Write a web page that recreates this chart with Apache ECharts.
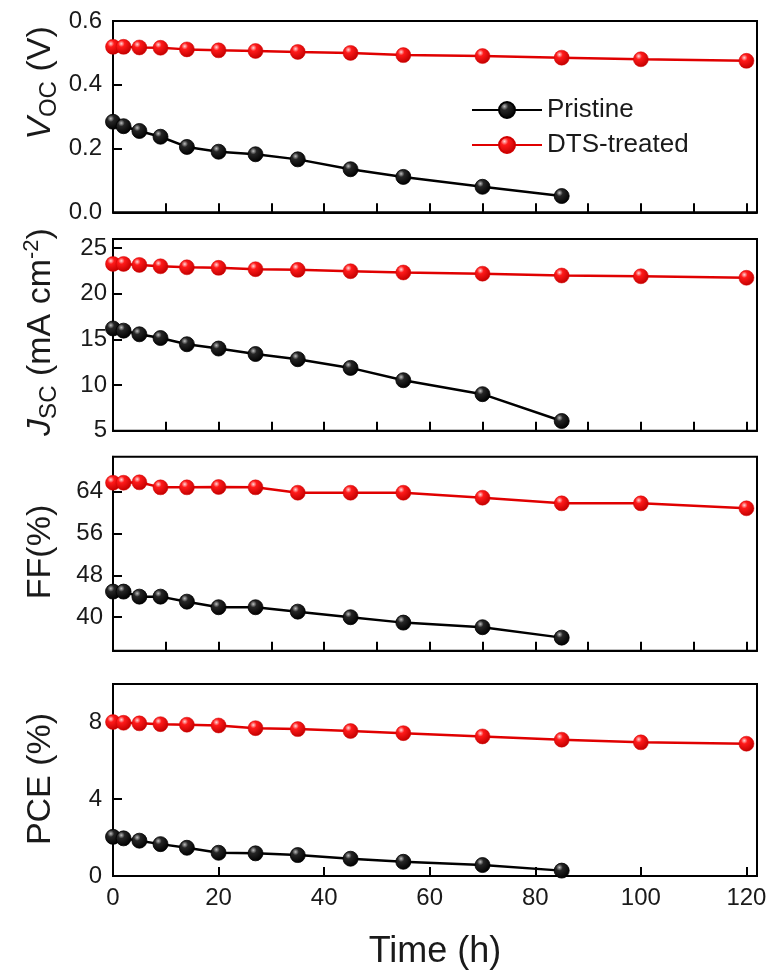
<!DOCTYPE html>
<html>
<head>
<meta charset="utf-8">
<script src="https://cdn.jsdelivr.net/npm/echarts@6/dist/echarts.min.js"></script>
<style>
html,body{margin:0;padding:0;background:#fff}
#chart{width:771px;height:976px}
</style>
</head>
<body>
<div id="chart"></div>
<script>
// Ageing time (h)
const timePristine = [0, 2, 5, 9, 14, 20, 27, 35, 45, 55, 70, 85];
const timeTreated  = [0, 2, 5, 9, 14, 20, 27, 35, 45, 55, 70, 85, 100, 120];

// Open-circuit voltage (V)
const vocPristine = [0.284, 0.270, 0.255, 0.237, 0.205, 0.190, 0.182, 0.166, 0.135, 0.111, 0.080, 0.051];
const vocTreated  = [0.519, 0.519, 0.517, 0.516, 0.511, 0.508, 0.506, 0.503, 0.500, 0.493, 0.490, 0.485, 0.480, 0.475];

// Short-circuit current density (mA cm^-2)
const jscPristine = [16.2, 15.96, 15.56, 15.15, 14.47, 14.0, 13.4, 12.83, 11.88, 10.53, 9.0, 6.06];
const jscTreated  = [23.27, 23.27, 23.16, 23.01, 22.9, 22.84, 22.69, 22.62, 22.47, 22.33, 22.2, 22.0, 21.92, 21.75];

// Fill factor (%)
const ffPristine = [44.9, 44.9, 43.94, 43.94, 42.98, 41.91, 41.91, 41.07, 40.0, 38.97, 38.09, 36.1];
const ffTreated  = [65.72, 65.72, 65.8, 64.84, 64.84, 64.9, 64.84, 63.81, 63.81, 63.81, 62.86, 61.78, 61.78, 60.83];

// Power conversion efficiency (%)
const pcePristine = [2.04, 1.96, 1.84, 1.66, 1.47, 1.21, 1.18, 1.09, 0.90, 0.74, 0.57, 0.28];
const pceTreated  = [8.02, 7.98, 7.95, 7.91, 7.88, 7.84, 7.70, 7.65, 7.55, 7.44, 7.27, 7.10, 6.96, 6.89];

// Axis tick labels
const xTickLabels = [0, 20, 40, 60, 80, 100, 120];
const vocTicks = [0, 0.2, 0.4, 0.6];
const jscTicks = [5, 10, 15, 20, 25];
const ffTicks = [40, 48, 56, 64];
const pceTicks = [0, 4, 8];

const seriesNames = ['Pristine', 'DTS-treated'];

const FONT = '"Liberation Sans", Arial, Helvetica, sans-serif';
const TXT = '#1a1a1a';

const chart = echarts.init(document.getElementById('chart'), null, {renderer: 'canvas'});

function ball(light, mid, dark) {
  return new echarts.graphic.RadialGradient(0.36, 0.3, 0.7, [
    {offset: 0, color: light},
    {offset: 0.3, color: mid},
    {offset: 1, color: dark}
  ]);
}
const redBall = ball('#ffd6d6', '#ff1a1a', '#c40000');
const blackBall = ball('#bdbdbd', '#262626', '#000000');

const gridLeft = 113, gridWidth = 644;
const panels = [
  {top: 21, height: 191.3, min: 0, max: 0.6, ticks: vocTicks, p: vocPristine, t: vocTreated, fmt: v => v.toFixed(1), lblMargin: 11},
  {top: 239, height: 191.7, min: 5, max: 26, ticks: jscTicks, p: jscPristine, t: jscTreated, fmt: v => String(v), lblMargin: 6},
  {top: 456.7, height: 194, min: 33.6, max: 70.7, ticks: ffTicks, p: ffPristine, t: ffTreated, fmt: v => String(v), lblMargin: 10},
  {top: 684, height: 192, min: 0, max: 10, ticks: pceTicks, p: pcePristine, t: pceTreated, fmt: v => String(v), lblMargin: 11}
];

const grids = [], xAxes = [], yAxes = [], series = [];
const minorX = [10, 20, 30, 40, 50, 60, 70, 80, 90, 100, 110, 120];

panels.forEach((pn, i) => {
  const last = i === panels.length - 1;
  grids.push({
    left: gridLeft, width: gridWidth, top: pn.top, height: pn.height,
    show: true, borderColor: '#000', borderWidth: 2, backgroundColor: 'transparent'
  });
  xAxes.push({
    type: 'value', gridIndex: i, min: 0, max: 122,
    axisLine: {show: true, onZero: false, lineStyle: {color: '#000', width: 2}},
    axisTick: {show: true, inside: true, length: 9, lineStyle: {color: '#000', width: 2},
      customValues: last ? xTickLabels.slice(1) : minorX},
    axisLabel: {show: last, customValues: xTickLabels, margin: 10,
      fontSize: 24, fontFamily: FONT, color: TXT},
    splitLine: {show: false},
    name: last ? 'Time (h)' : '',
    nameLocation: 'middle', nameGap: 58,
    nameTextStyle: {fontSize: 36, fontFamily: FONT, color: TXT}
  });
  yAxes.push({
    type: 'value', gridIndex: i, min: pn.min, max: pn.max,
    axisLine: {show: true, onZero: false, lineStyle: {color: '#000', width: 2}},
    axisTick: {show: true, inside: true, length: 9, lineStyle: {color: '#000', width: 2},
      customValues: pn.ticks},
    axisLabel: {customValues: pn.ticks, formatter: pn.fmt, margin: pn.lblMargin,
      fontSize: 24, fontFamily: FONT, color: TXT},
    splitLine: {show: false}
  });
  series.push({
    name: seriesNames[1], type: 'line', xAxisIndex: i, yAxisIndex: i,
    data: timeTreated.map((x, k) => [x, pn.t[k]]),
    symbol: 'circle', symbolSize: 15,
    lineStyle: {color: '#e00000', width: 2.5},
    itemStyle: {color: redBall, borderColor: '#d00000', borderWidth: 0.5},
    z: 3
  });
  series.push({
    name: seriesNames[0], type: 'line', xAxisIndex: i, yAxisIndex: i,
    data: timePristine.map((x, k) => [x, pn.p[k]]),
    symbol: 'circle', symbolSize: 15,
    lineStyle: {color: '#000', width: 2.5},
    itemStyle: {color: blackBall, borderColor: '#000', borderWidth: 0.8},
    z: 4
  });
});

// Rotated y-axis titles with italic symbols and sub/superscripts
const richBase = {
  n: {fontSize: 34, fontFamily: FONT, lineHeight: 40, fill: TXT},
  i: {fontSize: 34, fontFamily: FONT, fontStyle: 'italic', lineHeight: 40, fill: TXT},
  s: {fontSize: 24, fontFamily: FONT, lineHeight: 24, verticalAlign: 'bottom', fill: TXT},
  u: {fontSize: 22, fontFamily: FONT, lineHeight: 22, verticalAlign: 'top', fill: TXT}
};
function yTitle(text, x, y) {
  return {
    type: 'text', x: x, y: y, rotation: Math.PI / 2, silent: true,
    style: {text: text, rich: richBase, align: 'center', verticalAlign: 'middle',
      fontSize: 34, fontFamily: FONT, fill: TXT}
  };
}

chart.setOption({
  animation: false,
  backgroundColor: '#fff',
  grid: grids,
  xAxis: xAxes,
  yAxis: yAxes,
  legend: {
    data: seriesNames,
    orient: 'vertical',
    left: 466, top: 92,
    itemWidth: 70, itemHeight: 20, itemGap: 9,
    textStyle: {fontSize: 26, fontFamily: FONT, color: TXT},
    selectedMode: false
  },
  series: series,
  graphic: [
    yTitle('{i|V}{s|OC}{n| (V)}', 41, 83),
    yTitle('{i|J}{s|SC}{n| (mA cm}{u|-2}{n|)}', 41, 332),
    yTitle('{n|FF(%)}', 41, 552),
    yTitle('{n|PCE (%)}', 41, 779)
  ]
});
</script>
</body>
</html>
